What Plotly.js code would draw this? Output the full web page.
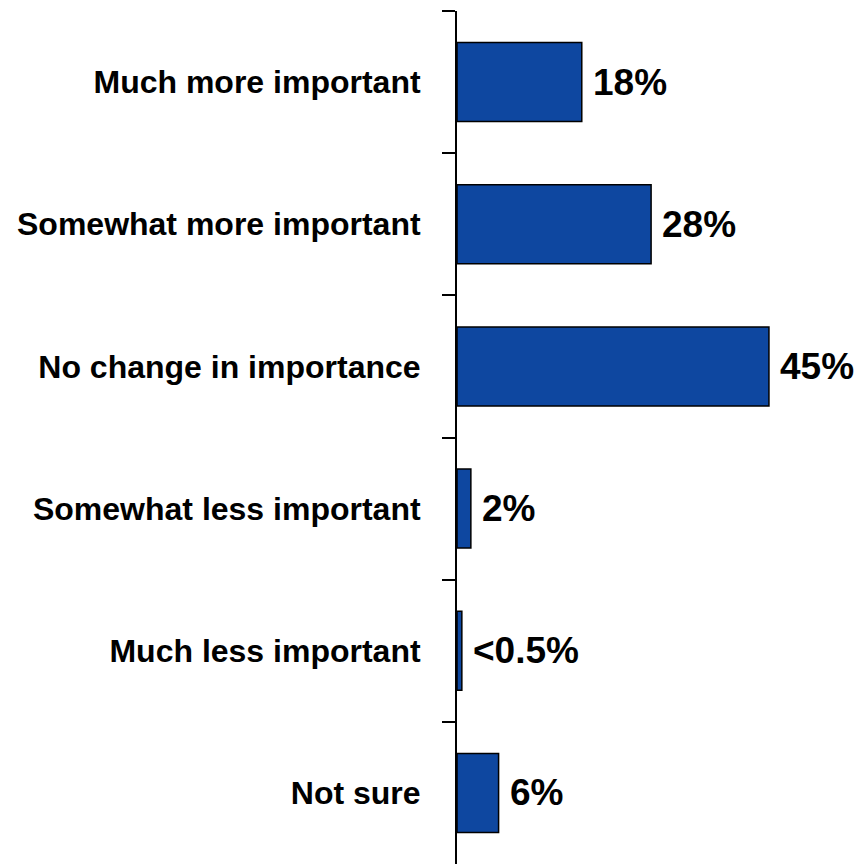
<!DOCTYPE html>
<html>
<head>
<meta charset="utf-8">
<script src="https://cdn.plot.ly/plotly-3.0.1.min.js"></script>
<style>html,body{margin:0;padding:0;background:#fff;overflow:hidden}</style>
</head>
<body>
<div id="chart" style="width:868px;height:864px"></div>
<script>
const categories = ["Much more important","Somewhat more important","No change in importance","Somewhat less important","Much less important","Not sure"];
const values = [18, 28, 45, 2, 0.7, 6];
const valueLabels = ["18%","28%","45%","2%","<0.5%","6%"];

const trace = {
  type: 'bar',
  orientation: 'h',
  y: categories,
  x: values,
  marker: {color: '#0E47A0', line: {color: '#000', width: 1.5}},
  hoverinfo: 'none'
};

const annotations = categories.map((c, i) => ({
  x: values[i], y: c, xref: 'x', yref: 'y',
  text: valueLabels[i], showarrow: false,
  xanchor: 'left', yanchor: 'middle', xshift: 9,
  font: {family: 'Liberation Sans, Arial, sans-serif', size: 37, color: '#000', weight: 'bold'}
}));

const layout = {
  width: 868, height: 864,
  margin: {l: 457, r: 2, t: 11, b: 0, pad: 0},
  paper_bgcolor: '#fff', plot_bgcolor: '#fff',
  showlegend: false,
  bargap: 0.444,
  xaxis: {range: [0, 59], showgrid: false, zeroline: false, showticklabels: false, ticks: '', showline: false, fixedrange: true},
  yaxis: {
    autorange: 'reversed', showgrid: false, zeroline: false,
    showline: true, linecolor: '#000', linewidth: 2,
    ticks: 'outside', tickson: 'boundaries', ticklen: 13, tickwidth: 2, tickcolor: '#000',
    ticklabelstandoff: 28,
    tickfont: {family: 'Liberation Sans, Arial, sans-serif', size: 32, color: '#000', weight: 'bold'}
  },
  annotations: annotations
};

Plotly.newPlot('chart', [trace], layout, {displayModeBar: false, staticPlot: true});
</script>
</body>
</html>
